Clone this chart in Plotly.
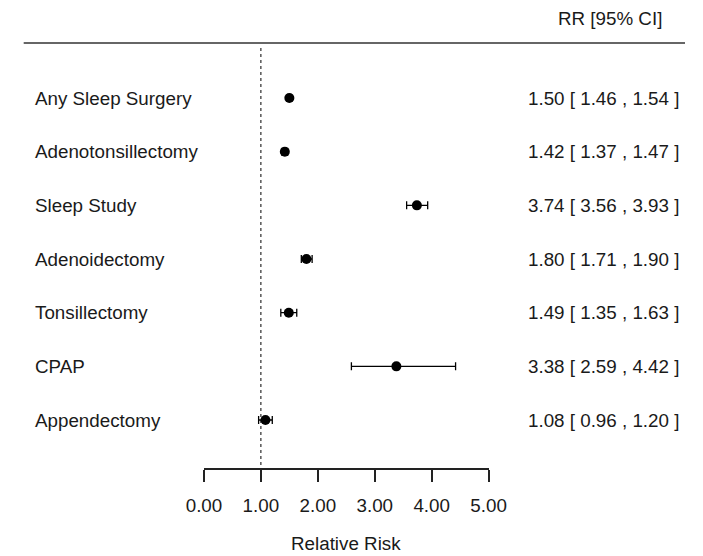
import plotly.graph_objects as go

labels = ["Any Sleep Surgery", "Adenotonsillectomy", "Sleep Study", "Adenoidectomy",
          "Tonsillectomy", "CPAP", "Appendectomy"]
rr = [1.50, 1.42, 3.74, 1.80, 1.49, 3.38, 1.08]
lo = [1.46, 1.37, 3.56, 1.71, 1.35, 2.59, 0.96]
hi = [1.54, 1.47, 3.93, 1.90, 1.63, 4.42, 1.20]
tick_vals = [0, 1, 2, 3, 4, 5]
tick_text = ["0.00", "1.00", "2.00", "3.00", "4.00", "5.00"]
ref_line = 1.0

W, H = 703, 556
FONT = "Liberation Sans, Arial, sans-serif"
FS = 18.8
TXT = "#1a1a1a"

rows = list(range(len(labels)))
row0_px, row_step = 98.0, 53.67
axis_px = 468.0
x0_px, x5_px = 196.0, 496.0

fig = go.Figure()
fig.add_trace(go.Scatter(
    x=rr, y=rows, mode="markers",
    marker=dict(symbol="circle", size=10, color="black"),
    error_x=dict(type="data", symmetric=False,
                 array=[h - r for h, r in zip(hi, rr)],
                 arrayminus=[r - l for r, l in zip(rr, lo)],
                 color="black", thickness=1.3, width=4),
    cliponaxis=False, showlegend=False, hoverinfo="skip"))

y_top = (0 - row0_px) / row_step
y_bot = (axis_px - row0_px) / row_step

annotations = []
for i, lab in enumerate(labels):
    annotations.append(dict(x=15.5 / W, xref="paper", y=i, yref="y", text=lab,
                            xanchor="left", yanchor="middle", showarrow=False,
                            font=dict(family=FONT, size=FS, color=TXT)))
    annotations.append(dict(x=698.5 / W, xref="paper", y=i, yref="y",
                            text=f"{rr[i]:.2f} [ {lo[i]:.2f} , {hi[i]:.2f} ]",
                            xanchor="right", yanchor="middle", showarrow=False,
                            font=dict(family=FONT, size=FS, color=TXT)))
annotations.append(dict(x=681 / W, xref="paper", y=1 - 18 / H, yref="paper",
                        text="RR [95% CI]", xanchor="right", yanchor="middle",
                        showarrow=False, font=dict(family=FONT, size=FS, color=TXT)))
annotations.append(dict(x=(x0_px + x5_px) / 2 / W, xref="paper", y=1 - 543 / H, yref="paper",
                        text="Relative Risk", xanchor="center", yanchor="middle",
                        showarrow=False, font=dict(family=FONT, size=FS, color=TXT)))

shapes = [
    dict(type="line", xref="paper", yref="paper", x0=6 / W, x1=1, y0=1 - 43 / H, y1=1 - 43 / H,
         line=dict(color="#333333", width=1.5)),
    dict(type="line", xref="x", yref="y", x0=ref_line, x1=ref_line,
         y0=(48 - row0_px) / row_step, y1=y_bot,
         line=dict(color="black", width=1, dash="dot")),
]

fig.update_layout(
    width=W, height=H, margin=dict(l=0, r=0, t=0, b=0),
    paper_bgcolor="white", plot_bgcolor="white",
    xaxis=dict(domain=[x0_px / W, x5_px / W], range=[0, 5], tickvals=tick_vals,
               ticktext=tick_text, showline=True, linecolor="#222222", linewidth=1.5,
               ticks="outside", ticklen=12, tickwidth=1.5, tickcolor="#222222",
               ticklabelstandoff=8,
               showgrid=False, zeroline=False, fixedrange=True,
               tickfont=dict(family=FONT, size=FS, color=TXT)),
    yaxis=dict(domain=[1 - axis_px / H, 1], range=[y_bot, y_top], visible=False,
               showgrid=False, zeroline=False, fixedrange=True),
    annotations=annotations, shapes=shapes,
)

fig.write_html("out.html", config={"displayModeBar": False},
               post_script="document.body.style.margin='0';document.body.style.overflow='hidden';")
